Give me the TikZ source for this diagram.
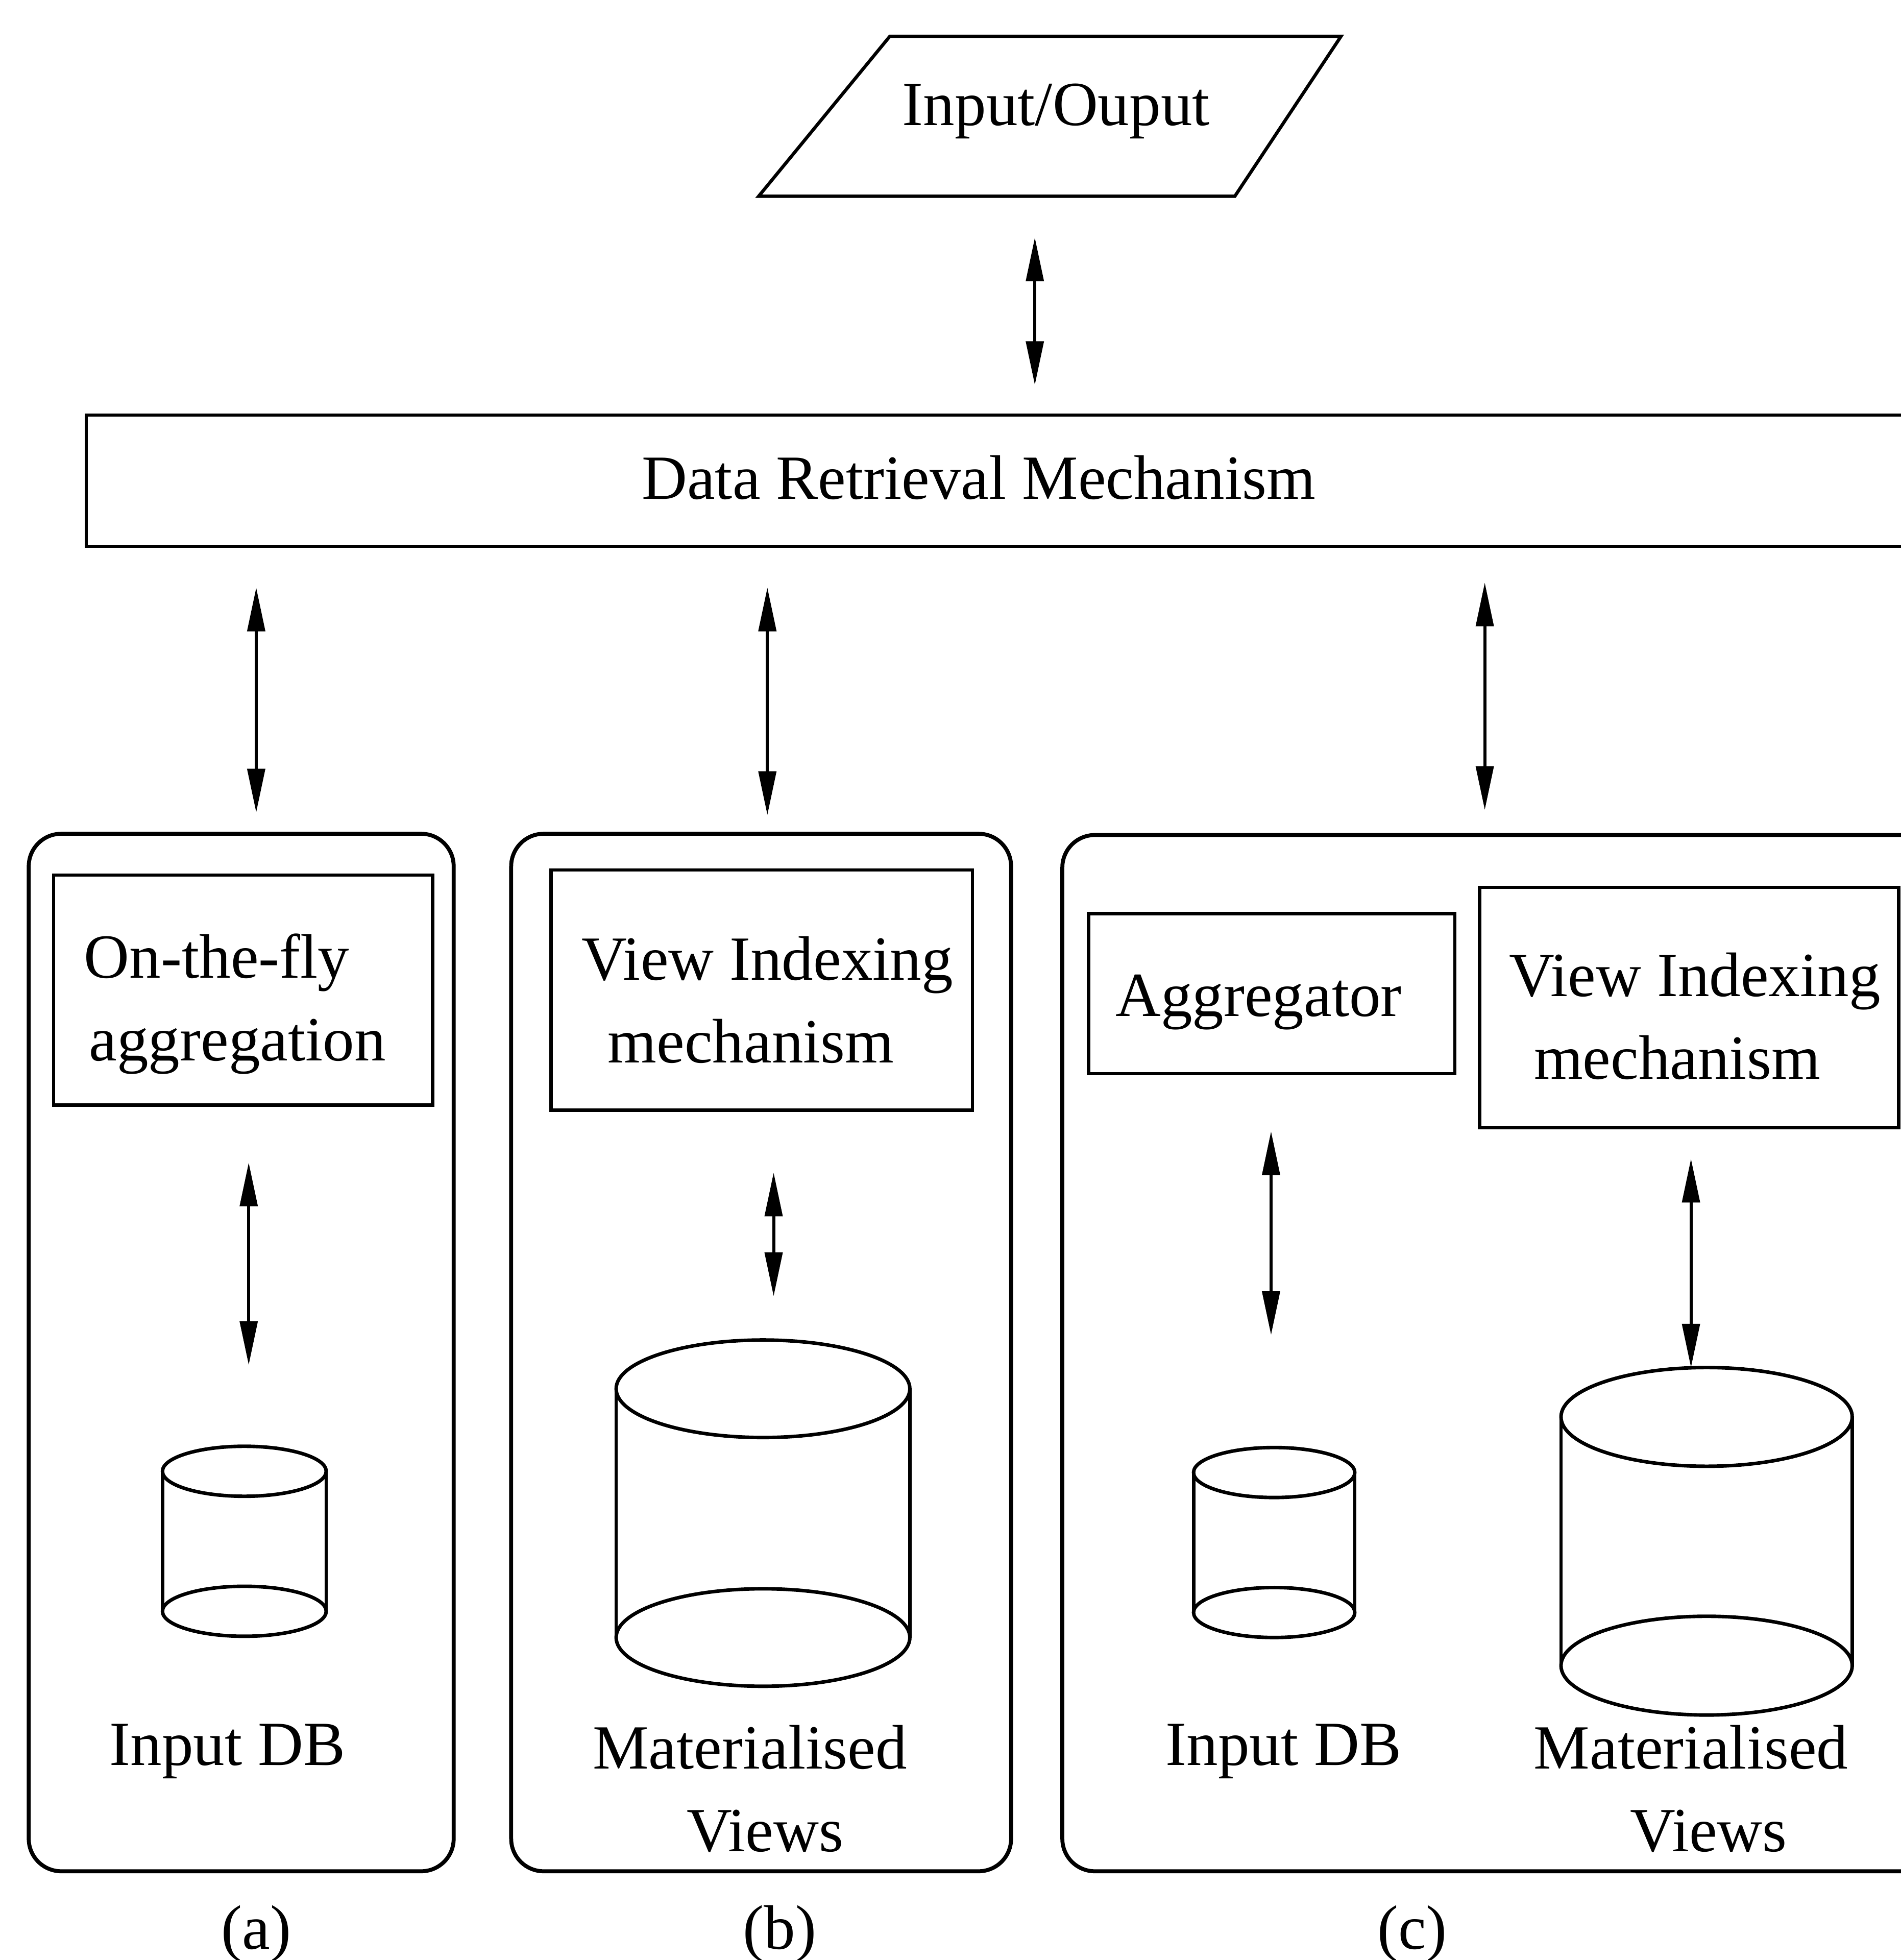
\documentclass[tikz,border=0pt]{standalone}
\usepackage{fontspec}
\setmainfont{Liberation Serif}
\usetikzlibrary{arrows.meta}

\begin{document}
\begin{tikzpicture}
[x=0.01cm,y=-0.01cm,
  boxdecorate/.style={draw,line width=0.75pt,inner sep=0pt},%
  paneldecorate/.style={draw,line width=0.9pt,rounded corners=2.6mm},%
  linedecorate/.style={{Triangle[length=3.5mm,width=1.4mm]}-{Triangle[length=3.5mm,width=1.4mm]},line width=0.7pt},%
  textdecorate/.style={font=\fontsize{14.3}{18.8}\selectfont,inner sep=0pt},%
  dbdecorate/.style={line width=0.8pt}]
\useasboundingbox (0,0) rectangle (1521,1568);
%% input/output
\draw[boxdecorate] (712,29) -- (1073,29) -- (988,157) -- (607,157) -- cycle;
\node (io) at (845,89) [textdecorate] {Input/Ouput};
%% data retrieval
\draw[boxdecorate] (69,332) rectangle (1560,437);
\node (drm) at (783,382) [textdecorate] {Data Retrieval Mechanism};
%% panels
\draw[paneldecorate] (23,667) rectangle (363,1497);
\draw[paneldecorate] (409,667) rectangle (809,1497);
\draw[paneldecorate] (850,668) rectangle (1560,1497);
\foreach \nodename/\x in {a/205, b/624, c/1130}
{
  \node (lab\nodename) at (\x,1547) [textdecorate] {(\nodename)};
}
%% boxes in the panels
\node (flybox) at (194.5,792) [boxdecorate,minimum width=30.3mm,minimum height=18.4mm] {};
\node (fly) at (188,803) [textdecorate,align=left] {On-the-fly\\\hspace*{0.4mm}aggregation};
\node (vixbbox) at (609.5,792) [boxdecorate,minimum width=33.7mm,minimum height=19.2mm] {};
\node (vixb) at (614,800) [textdecorate,align=left] {View Indexing\\\hspace*{2.1mm}mechanism};
\node (aggbox) at (1017.5,795) [boxdecorate,minimum width=29.3mm,minimum height=12.8mm] {};
\node (agg) at (1007,802) [textdecorate] {Aggregator};
\node (vixcbox) at (1351.5,806) [boxdecorate,minimum width=33.5mm,minimum height=19.2mm] {};
\node (vixc) at (1356,813) [textdecorate,align=left] {View Indexing\\\hspace*{2mm}mechanism};
%% databases
\foreach \nodename/\cx/\rx/\ry/\top/\bot in {
  dba/195.5/65.5/20/1177/1289, mvb/610.5/117.5/39/1111/1310,
  dbc/1019.5/64.5/20/1178/1290, mvc/1365.5/116.5/39.5/1133.5/1332.5}
{
  \draw[dbdecorate] (\cx-\rx,\top) -- (\cx-\rx,\bot) (\cx+\rx,\top) -- (\cx+\rx,\bot);
  \draw[dbdecorate,fill=white] (\cx,\bot) ellipse [x radius=\rx,y radius=\ry];
  \draw[dbdecorate,fill=white] (\cx,\top) ellipse [x radius=\rx,y radius=\ry];
  \coordinate (\nodename) at (\cx,\top-\ry);
}
\node (dbatext) at (182,1401) [textdecorate] {Input DB};
\node (dbctext) at (1027,1401) [textdecorate] {Input DB};
\node (mvbtext) at (600,1431) [textdecorate,align=left] {Materialised\\\hspace*{7.5mm}Views};
\node (mvctext) at (1353,1431) [textdecorate,align=left] {Materialised\\\hspace*{7.7mm}Views};
%% arrows
\foreach \nodename/\x/\ytop/\ybot in {
  io/828/190/308, a/205/470/650, b/614/470/652, c/1188/466/648,
  a2/199/930/1092, b2/619/938/1037, c2/1017/905/1068, c3/1353/927/1094}
{
  \coordinate (\nodename-t) at (\x,\ytop);
  \coordinate (\nodename-b) at (\x,\ybot);
  \draw[linedecorate] (\nodename-t) -- (\nodename-b);
}
\end{tikzpicture}
\end{document}
